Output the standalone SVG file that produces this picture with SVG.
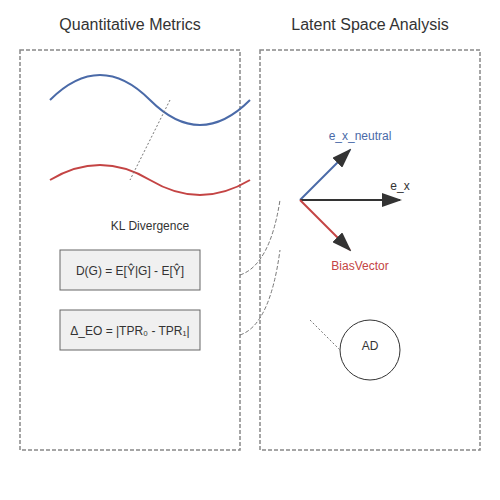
<svg xmlns="http://www.w3.org/2000/svg" width="500" height="500" viewBox="0 0 500 500">
<defs>
<style>
text{font-family:"Liberation Sans",Arial,sans-serif;fill:#333;text-anchor:middle}
.title{font-size:16px}
.lbl{font-size:12px}
.panel{fill:none;stroke:#888;stroke-width:1.5;stroke-dasharray:4,2}
.box{fill:#f0f0f0;stroke:#666;stroke-width:1}
.link{fill:none;stroke:#777;stroke-width:1;stroke-dasharray:4,2}
.dot{fill:none;stroke:#777;stroke-width:1;stroke-dasharray:2,2}
</style>
<marker id="ah" viewBox="0 0 10 10" refX="9" refY="5" markerWidth="10" markerHeight="10" markerUnits="userSpaceOnUse" orient="auto"><path d="M0,0L10,5L0,10z" fill="#333"/></marker>
<marker id="ahl" viewBox="0 0 10 10" refX="9" refY="5" markerWidth="20" markerHeight="14" markerUnits="userSpaceOnUse" orient="auto" preserveAspectRatio="none"><path d="M0,0L10,5L0,10z" fill="#333"/></marker>
</defs>
<g id="panel-left">
<rect class="panel" x="20" y="50" width="220" height="400"/>
<text class="title" x="130" y="30">Quantitative Metrics</text>
</g>
<g id="panel-right">
<rect class="panel" x="260" y="50" width="220" height="400"/>
<text class="title" x="370" y="30">Latent Space Analysis</text>
</g>
<g id="curve-blue"><path d="M50,100 Q100,50 150,100 T250,100" fill="none" stroke="#4a6aa8" stroke-width="2"/></g>
<g id="curve-red"><path d="M50,180 Q100,150 150,180 T250,180" fill="none" stroke="#c44444" stroke-width="2"/></g>
<g id="kl"><text class="lbl" x="150" y="230">KL Divergence</text></g>
<g id="box-dg">
<rect class="box" x="60" y="250" width="140" height="40"/>
<text class="lbl" x="130" y="275">D(G) = E[Ŷ|G] - E[Ŷ]</text>
</g>
<g id="box-eo">
<rect class="box" x="60" y="310" width="140" height="40"/>
<text class="lbl" x="130" y="335">Δ_EO = |TPR₀ - TPR₁|</text>
</g>
<g id="vectors">
<line x1="300" y1="200" x2="350" y2="150" stroke="#4a6aa8" stroke-width="2" marker-end="url(#ahl)"/>
<line x1="300" y1="200" x2="400" y2="200" stroke="#333" stroke-width="2" marker-end="url(#ahl)"/>
<line x1="300" y1="200" x2="350" y2="250" stroke="#c44444" stroke-width="2" marker-end="url(#ahl)"/>
<text class="lbl" x="360" y="140" style="fill:#4a6aa8">e_x_neutral</text>
<text class="lbl" x="400" y="190">e_x</text>
<text class="lbl" x="360" y="270" style="fill:#c44444">BiasVector</text>
</g>
<g id="ad">
<circle cx="370" cy="350" r="30" fill="none" stroke="#333" stroke-width="1"/>
<text class="lbl" x="370" y="350">AD</text>
</g>
<g id="connectors">
<path class="dot" d="M170,100 L130,180"/>
<path class="link" d="M240,275 Q270,265 280,200"/>
<path class="link" d="M240,335 Q270,325 280,250"/>
<path class="dot" d="M310,320 L340,350"/>
</g>
</svg>
